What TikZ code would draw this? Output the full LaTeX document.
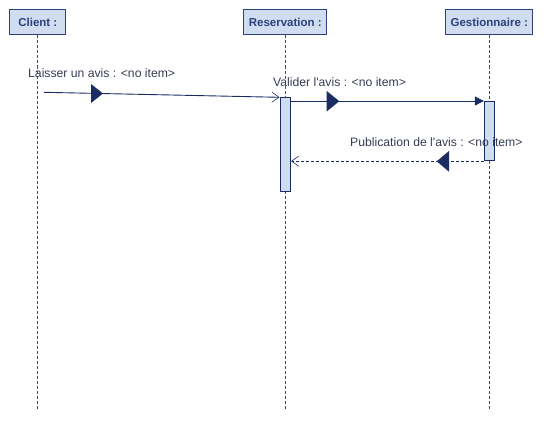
\documentclass[tikz,border=0pt]{standalone}
\usepackage{fontspec}
\setmainfont{Liberation Sans}
\usetikzlibrary{arrows.meta}
\definecolor{boxfill}{RGB}{208,220,240}
\definecolor{boxline}{RGB}{45,65,125}
\definecolor{lifeline}{RGB}{50,75,145}
\definecolor{msgline}{RGB}{25,45,100}
\definecolor{msgtext}{RGB}{55,60,85}
\begin{document}
\begin{tikzpicture}[x=1pt,y=-1pt,
  objbox/.style={draw=boxline,fill=boxfill,line width=1pt,minimum height=25pt,inner sep=0pt,font=\fontsize{11.5}{12}\selectfont\bfseries,text=boxline},
  lifel/.style={draw=lifeline,line width=1pt,dash pattern=on 3pt off 2pt},
  actbox/.style={draw=msgline,fill=boxfill,line width=0.9pt},
  msg/.style={draw=msgline,line width=0.9pt},
  ret/.style={draw=msgline,line width=0.9pt,dash pattern=on 3pt off 2pt},
  lbl/.style={font=\fontsize{12.2}{13}\selectfont,text=msgtext,inner sep=0pt,anchor=west},
  tri/.style={fill=msgline,draw=none},
  openhead/.style={-{Straight Barb[length=7pt,width=10pt,line width=0.6pt]}},
  solidhead/.style={-{Triangle[length=9pt,width=9pt]}}
]
\useasboundingbox (0,0) rectangle (551,420);
% objects
\node[objbox,minimum width=55.7pt] (client) at (37.8,22.5) {Client :};
\node[objbox,minimum width=82.7pt] (resa) at (285.3,22.5) {Reservation :};
\node[objbox,minimum width=86.7pt] (gest) at (489.3,22.5) {Gestionnaire :};
% lifeline ends
\coordinate (clientend) at (37.8,410);
\coordinate (resaend) at (285.3,410);
\coordinate (gestend) at (489.3,410);
\draw[lifel] (client.south) -- (clientend);
\draw[lifel] (resa.south) -- (resaend);
\draw[lifel] (gest.south) -- (gestend);
% activations
\node[actbox,minimum width=10.7pt,minimum height=93.7pt,inner sep=0pt,anchor=north] (actresa) at (285.3,97.3) {};
\node[actbox,minimum width=10pt,minimum height=59.3pt,inner sep=0pt,anchor=north] (actgest) at (489.3,101) {};
% message 1
\coordinate (m1start) at (44,92.3);
\coordinate (m1end) at (actresa.north west);
\draw[msg,openhead] (m1start) -- (m1end);
\fill[tri] (91,84) -- (103,93.5) -- (91,103) -- cycle;
\node[lbl] (l1) at (28,73) {Laisser un avis : <no item>};
% message 2
\coordinate (m2start) at (actresa.east |- actgest.north);
\coordinate (m2end) at (actgest.north west);
\draw[msg,solidhead] (m2start) -- (m2end);
\fill[tri] (326.7,91) -- (339.3,101.2) -- (326.7,111.5) -- cycle;
\node[lbl] (l2) at (273,81.7) {Valider l\textquotesingle avis : <no item>};
% message 3
\coordinate (m3start) at (actgest.south west);
\coordinate (m3end) at (actresa.east |- actgest.south);
\draw[ret,openhead] (m3start) -- (m3end);
\fill[tri] (449,151) -- (436.7,161.3) -- (449,171.7) -- cycle;
\node[lbl] (l3) at (350,141.7) {Publication de l\textquotesingle avis : <no item>};
\end{tikzpicture}
\end{document}
